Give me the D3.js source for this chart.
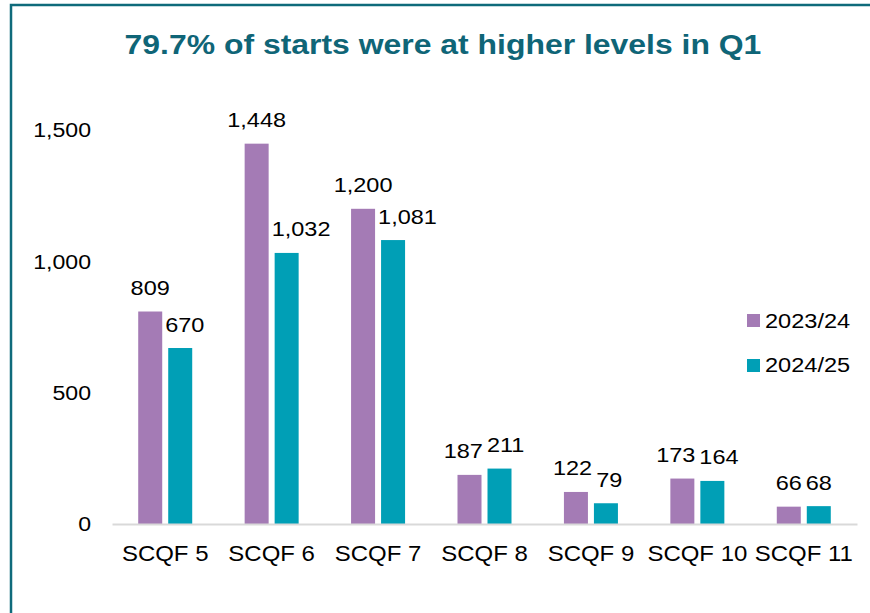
<!DOCTYPE html>
<html>
<head>
<meta charset="utf-8">
<script src="https://cdn.jsdelivr.net/npm/d3@7"></script>
<style>
  body { margin: 0; background: #fff; }
  svg { display: block; font-family: "Liberation Sans", Arial, sans-serif; }
</style>
</head>
<body>
<svg id="chart" width="870" height="613"></svg>
<script>
// chart data
var categories = ["SCQF 5", "SCQF 6", "SCQF 7", "SCQF 8", "SCQF 9", "SCQF 10", "SCQF 11"];
var seriesNames = ["2023/24", "2024/25"];
var values2023 = [809, 1448, 1200, 187, 122, 173, 66];
var values2024 = [670, 1032, 1081, 211, 79, 164, 68];
var yTicks = [0, 500, 1000, 1500];
var colors = ["#a47bb5", "#009fb6"];

// the source text is a little wider than plain Arial, so widen the glyphs
var stretch = function(sel, k) {
  sel.each(function() {
    var t = d3.select(this);
    var x0 = +t.attr("x") || 0;
    t.attr("x", x0 / k).attr("transform", "scale(" + k + ",1)");
  });
};

var svg = d3.select("#chart");

// frame round the chart
svg.append("rect")
    .attr("x", 11)
    .attr("y", 5)
    .attr("width", 880)
    .attr("height", 640)
    .attr("fill", "none")
    .attr("stroke", "#0f6b7b")
    .attr("stroke-width", 2.5);

svg.append("text")
    .attr("x", 443)
    .attr("y", 54)
    .attr("text-anchor", "middle")
    .attr("font-size", 28)
    .attr("font-weight", "bold")
    .attr("fill", "#0f6577")
    .text("79.7% of starts were at higher levels in Q1")
    .call(stretch, 1.14);

var margin = {left: 112, top: 130};

var g = svg.append("g").attr("transform", "translate(" + margin.left + "," + margin.top + ")");

var x = d3.scaleBand().domain(categories).range([0, 745]).padding(0);
var xs = d3.scaleBand().domain(seriesNames).range([0, 54]).paddingInner(0.2);
var y = d3.scaleLinear().domain([0, 1500]).range([394, 0]);

var rows = categories.map(function(c, i) {
  return {cat: c, vals: [values2023[i], values2024[i]]};
});

var groups = g.selectAll(".grp")
    .data(rows)
  .enter().append("g")
    .attr("class", "grp")
    .attr("transform", function(d) { return "translate(" + (x(d.cat) + x.bandwidth() / 2 - 27) + ",0)"; });

groups.selectAll("rect")
    .data(function(d) { return d.vals.map(function(v, k) { return {s: seriesNames[k], v: v, k: k}; }); })
  .enter().append("rect")
    .attr("x", function(d) { return xs(d.s); })
    .attr("y", function(d) { return y(d.v); })
    .attr("width", xs.bandwidth())
    .attr("height", function(d) { return y(0) - y(d.v); })
    .attr("fill", function(d) { return colors[d.k]; });

var labelK = 1.12;
groups.selectAll(".lbl")
    .data(function(d) { return d.vals.map(function(v, k) { return {s: seriesNames[k], v: v}; }); })
  .enter().append("text")
    .attr("class", "lbl")
    .attr("x", function(d) { return xs(d.s) + xs.bandwidth() / 2; })
    .attr("y", function(d) { return y(d.v) - 16.5; })
    .attr("text-anchor", "middle")
    .attr("font-size", 21)
    .attr("fill", "#000")
    .text(function(d) { return d3.format(",")(d.v); })
    .call(stretch, labelK);

var nudge = function(node, dx) {
  d3.select(node).attr("x", +d3.select(node).attr("x") + dx / labelK);
};

// keep the second label clear of the first bar, then keep the two labels apart
groups.each(function() {
  var bars = d3.select(this).selectAll("rect").nodes();
  var lbls = d3.select(this).selectAll(".lbl").nodes();
  var r = bars[0].getBoundingClientRect();
  var b = lbls[1].getBoundingClientRect();
  if (b.bottom > r.top && b.left < r.right + 3) {
    nudge(lbls[1], r.right + 3 - b.left);
  }
  var a = lbls[0].getBoundingClientRect();
  b = lbls[1].getBoundingClientRect();
  var overlapX = a.right + 4 - b.left;
  var overlapY = Math.min(a.bottom, b.bottom) - Math.max(a.top, b.top);
  if (overlapX > 0 && overlapY > 4) {
    nudge(lbls[0], -overlapX / 2);
    nudge(lbls[1], overlapX / 2);
  }
});

// y axis, labels only
var yAxis = g.append("g")
    .call(d3.axisLeft(y).tickValues(yTicks).tickFormat(d3.format(",")).tickSize(0).tickPadding(21));
yAxis.select(".domain").remove();
yAxis.selectAll("text").attr("font-size", 21).attr("fill", "#000").attr("font-family", null).call(stretch, 1.1);

// x axis
var xAxis = g.append("g")
    .attr("transform", "translate(0," + y(0) + ")")
    .call(d3.axisBottom(x).tickSize(0).tickPadding(21));
xAxis.select(".domain").attr("stroke", "#d9d9d9").attr("stroke-width", 2);
xAxis.selectAll("text").attr("font-size", 22).attr("fill", "#000").attr("font-family", null).call(stretch, 1.09);

// legend
var legend = svg.append("g").attr("transform", "translate(747,314)");
seriesNames.forEach(function(s, k) {
  legend.append("rect")
      .attr("x", 0)
      .attr("y", k * 45)
      .attr("width", 13)
      .attr("height", 13)
      .attr("fill", colors[k]);
  legend.append("text")
      .attr("x", 18)
      .attr("y", k * 45 + 13.5)
      .attr("font-size", 20.5)
      .attr("fill", "#000")
      .text(s)
      .call(stretch, 1.15);
});
</script>
</body>
</html>
